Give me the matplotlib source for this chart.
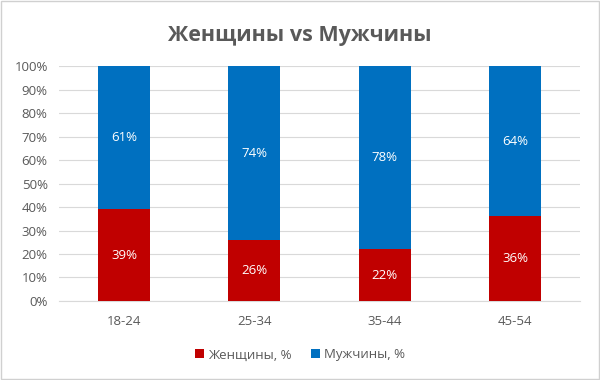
import matplotlib
matplotlib.use('Agg')
import matplotlib.pyplot as plt
from matplotlib.patches import Rectangle
from matplotlib.ticker import PercentFormatter

plt.rcParams['font.family'] = ['Open Sans', 'DejaVu Sans']

groups = ['18-24', '25-34', '35-44', '45-54']
women = [39, 26, 22, 36]
men = [61, 74, 78, 64]
red = '#C00000'
blue = '#0070C0'
grey = '#595959'

fig = plt.figure(figsize=(6, 3.8), dpi=100)
ax = fig.add_axes([0.098, 0.208, 0.869, 0.618])

x = range(len(groups))
b1 = ax.bar(x, women, width=0.4, color=red, label='Женщины, %', zorder=3)
b2 = ax.bar(x, men, width=0.4, bottom=women, color=blue, label='Мужчины, %', zorder=3)

for rects, vals, base in [(b1, women, [0] * 4), (b2, men, women)]:
    for r, v, b in zip(rects, vals, base):
        ax.text(r.get_x() + r.get_width() / 2, b + v / 2, f'{v}%', ha='center', va='center',
                color='white', fontsize=9.5)

ax.set_xlim(-0.5, 3.5)
ax.set_ylim(0, 100)
ax.set_yticks(range(0, 101, 10))
ax.yaxis.set_major_formatter(PercentFormatter(decimals=0))
ax.set_xticks(list(x))
ax.set_xticklabels(groups)
ax.grid(axis='y', color='#D9D9D9', linewidth=0.8, zorder=0)
for s in ['top', 'right', 'left']:
    ax.spines[s].set_visible(False)
ax.spines['bottom'].set_color('#D9D9D9')
ax.tick_params(length=0, colors=grey, labelsize=9.5)
ax.tick_params(axis='x', pad=10)
ax.tick_params(axis='y', pad=8)

fig.suptitle('Женщины vs Мужчины', x=0.5, y=0.935, fontsize=15.5, fontweight='bold', color=grey)

fig.legend(loc='center', bbox_to_anchor=(0.5, 0.066), ncol=2, frameon=False, fontsize=9.5,
           handlelength=0.7, handleheight=0.7, handletextpad=0.3, columnspacing=1.5,
           labelcolor=grey)

fig.patches.append(Rectangle((0.002, 0.002), 0.996, 0.996, transform=fig.transFigure,
                             fill=False, edgecolor='#D0D0D0', linewidth=1))

fig.savefig('out.png', dpi=100)
